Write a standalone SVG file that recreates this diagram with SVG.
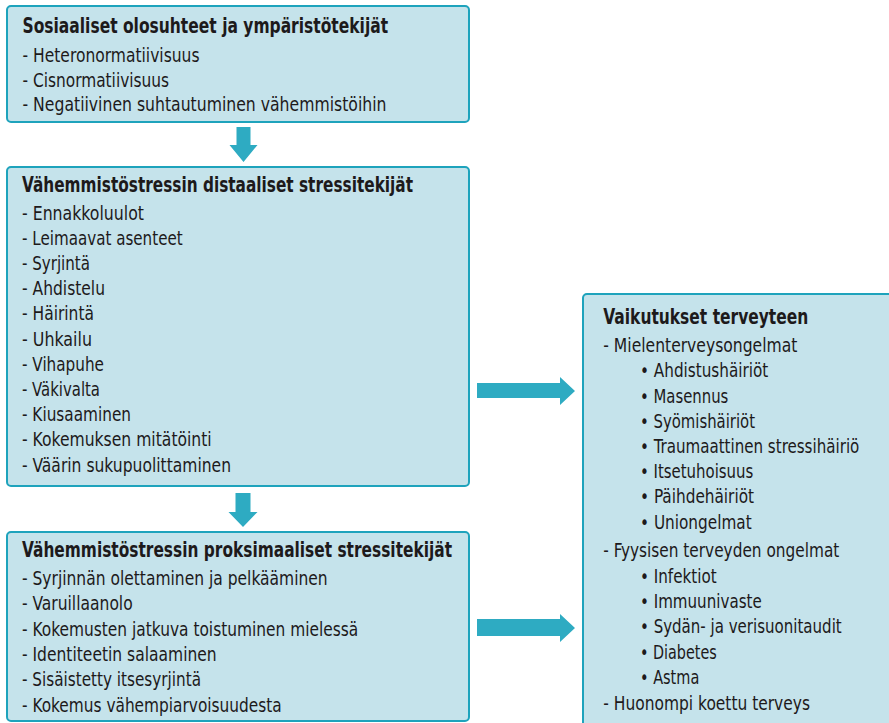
<svg xmlns="http://www.w3.org/2000/svg" width="889" height="723" viewBox="0 0 889 723">
<style>
.box{fill:#c5e3eb;stroke:#1ea3bc;stroke-width:2}
text{font-family:"Liberation Sans Narrow","DejaVu Sans Condensed","Liberation Sans",sans-serif;fill:#1d1a1b;font-size:20px}
.t{font-weight:bold;font-size:20.5px}
.arr{fill:#2eabc2}
</style>
<rect width="889" height="723" fill="#ffffff"/>
<g id="connectors">
<polygon class="arr" points="236.5,127 250.5,127 250.5,145 257.5,145 243.5,162 229.5,145 236.5,145"/>
<polygon class="arr" points="235.5,493 250.5,493 250.5,512 257.5,512 243,527 228.5,512 235.5,512"/>
<polygon class="arr" points="477,383 560,383 560,377 575,391 560,405 560,398 477,398"/>
<polygon class="arr" points="477,619 560,619 560,614 575,628 560,642 560,636 477,636"/>
</g>
<g id="node-sosiaaliset">
<rect class="box" x="7" y="6" width="462" height="116" rx="4"/>
<text class="t" x="22.5" y="33.3" textLength="365.6" lengthAdjust="spacingAndGlyphs">Sosiaaliset olosuhteet ja ympäristötekijät</text>
<text x="22.5" y="61.7" textLength="177" lengthAdjust="spacingAndGlyphs">- Heteronormatiivisuus</text>
<text x="22.5" y="86.5" textLength="146.6" lengthAdjust="spacingAndGlyphs">- Cisnormatiivisuus</text>
<text x="22.5" y="111.3" textLength="364" lengthAdjust="spacingAndGlyphs">- Negatiivinen suhtautuminen vähemmistöihin</text>
</g>
<g id="node-distaaliset">
<rect class="box" x="7" y="167" width="462" height="319" rx="4"/>
<text class="t" x="22" y="191.7" textLength="391" lengthAdjust="spacingAndGlyphs">Vähemmistöstressin distaaliset stressitekijät</text>
<text x="22" y="219.5" textLength="122" lengthAdjust="spacingAndGlyphs">- Ennakkoluulot</text>
<text x="22" y="244.7" textLength="160.7" lengthAdjust="spacingAndGlyphs">- Leimaavat asenteet</text>
<text x="22" y="269.9" textLength="68" lengthAdjust="spacingAndGlyphs">- Syrjintä</text>
<text x="22" y="295.1" textLength="83" lengthAdjust="spacingAndGlyphs">- Ahdistelu</text>
<text x="22" y="320.3" textLength="72" lengthAdjust="spacingAndGlyphs">- Häirintä</text>
<text x="22" y="345.5" textLength="70" lengthAdjust="spacingAndGlyphs">- Uhkailu</text>
<text x="22" y="370.7" textLength="82" lengthAdjust="spacingAndGlyphs">- Vihapuhe</text>
<text x="22" y="395.9" textLength="78" lengthAdjust="spacingAndGlyphs">- Väkivalta</text>
<text x="22" y="421.1" textLength="109" lengthAdjust="spacingAndGlyphs">- Kiusaaminen</text>
<text x="22" y="446.3" textLength="189.7" lengthAdjust="spacingAndGlyphs">- Kokemuksen mitätöinti</text>
<text x="22" y="471.5" textLength="209" lengthAdjust="spacingAndGlyphs">- Väärin sukupuolittaminen</text>
</g>
<g id="node-proksimaaliset">
<rect class="box" x="7" y="532" width="462" height="189" rx="4"/>
<text class="t" x="22" y="556.7" textLength="430" lengthAdjust="spacingAndGlyphs">Vähemmistöstressin proksimaaliset stressitekijät</text>
<text x="22" y="585" textLength="305.7" lengthAdjust="spacingAndGlyphs">- Syrjinnän olettaminen ja pelkääminen</text>
<text x="22" y="610.3" textLength="110.7" lengthAdjust="spacingAndGlyphs">- Varuillaanolo</text>
<text x="22" y="635.6" textLength="336.3" lengthAdjust="spacingAndGlyphs">- Kokemusten jatkuva toistuminen mielessä</text>
<text x="22" y="660.9" textLength="194.7" lengthAdjust="spacingAndGlyphs">- Identiteetin salaaminen</text>
<text x="22" y="686.2" textLength="179" lengthAdjust="spacingAndGlyphs">- Sisäistetty itsesyrjintä</text>
<text x="22" y="711.5" textLength="259.7" lengthAdjust="spacingAndGlyphs">- Kokemus vähempiarvoisuudesta</text>
</g>
<g id="node-vaikutukset">
<rect class="box" x="583" y="294" width="330" height="450" rx="4"/>
<text class="t" x="603.3" y="324.3" textLength="205" lengthAdjust="spacingAndGlyphs">Vaikutukset terveyteen</text>
<text x="603.3" y="352.3" textLength="194" lengthAdjust="spacingAndGlyphs">- Mielenterveysongelmat</text>
<text x="640" y="377.3" textLength="128.3" lengthAdjust="spacingAndGlyphs">• Ahdistushäiriöt</text>
<text x="640" y="402.5" textLength="88.3" lengthAdjust="spacingAndGlyphs">• Masennus</text>
<text x="640" y="427.8" textLength="115" lengthAdjust="spacingAndGlyphs">• Syömishäiriöt</text>
<text x="640" y="453.2" textLength="219.3" lengthAdjust="spacingAndGlyphs">• Traumaattinen stressihäiriö</text>
<text x="640" y="478.3" textLength="113.3" lengthAdjust="spacingAndGlyphs">• Itsetuhoisuus</text>
<text x="640" y="503.3" textLength="114" lengthAdjust="spacingAndGlyphs">• Päihdehäiriöt</text>
<text x="640" y="528.6" textLength="111.7" lengthAdjust="spacingAndGlyphs">• Uniongelmat</text>
<text x="603.3" y="556.7" textLength="236" lengthAdjust="spacingAndGlyphs">- Fyysisen terveyden ongelmat</text>
<text x="640" y="583.3" textLength="76.7" lengthAdjust="spacingAndGlyphs">• Infektiot</text>
<text x="640" y="608.3" textLength="121.7" lengthAdjust="spacingAndGlyphs">• Immuunivaste</text>
<text x="640" y="633.3" textLength="201.7" lengthAdjust="spacingAndGlyphs">• Sydän- ja verisuonitaudit</text>
<text x="640" y="658.8" textLength="76.7" lengthAdjust="spacingAndGlyphs">• Diabetes</text>
<text x="640" y="683.7" textLength="59.3" lengthAdjust="spacingAndGlyphs">• Astma</text>
<text x="603.3" y="710" textLength="206.7" lengthAdjust="spacingAndGlyphs">- Huonompi koettu terveys</text>
</g>
</svg>
